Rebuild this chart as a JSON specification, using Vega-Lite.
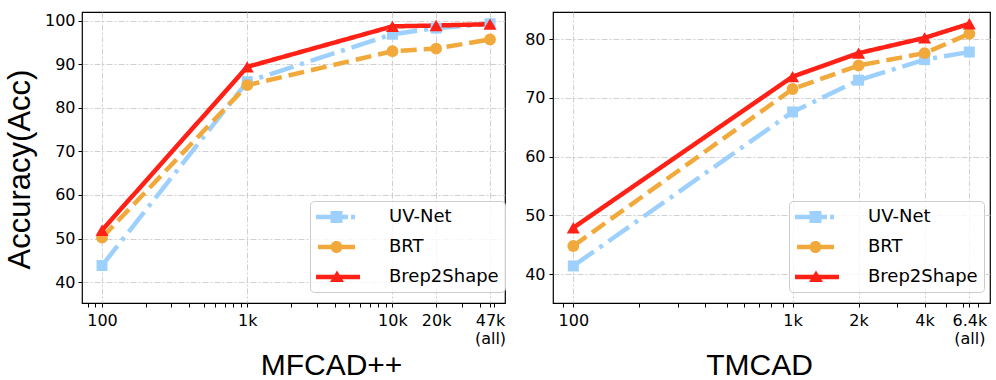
{
  "$schema": "https://vega.github.io/schema/vega-lite/v6.json",
  "background": "white",
  "padding": {"left": 3, "top": 11, "right": 0, "bottom": 0},
  "datasets": {
    "mfcad": [
      {"model": "UV-Net", "size": 100, "acc": 43.8},
      {"model": "UV-Net", "size": 1000, "acc": 86.0},
      {"model": "UV-Net", "size": 10000, "acc": 96.9},
      {"model": "UV-Net", "size": 20000, "acc": 98.3},
      {"model": "UV-Net", "size": 47000, "acc": 99.3},
      {"model": "BRT", "size": 100, "acc": 50.2},
      {"model": "BRT", "size": 1000, "acc": 85.2},
      {"model": "BRT", "size": 10000, "acc": 93.0},
      {"model": "BRT", "size": 20000, "acc": 93.6},
      {"model": "BRT", "size": 47000, "acc": 95.7},
      {"model": "Brep2Shape", "size": 100, "acc": 51.9},
      {"model": "Brep2Shape", "size": 1000, "acc": 89.4},
      {"model": "Brep2Shape", "size": 10000, "acc": 98.7},
      {"model": "Brep2Shape", "size": 20000, "acc": 98.9},
      {"model": "Brep2Shape", "size": 47000, "acc": 99.2}
    ],
    "tmcad": [
      {"model": "UV-Net", "size": 100, "acc": 41.4},
      {"model": "UV-Net", "size": 1000, "acc": 67.6},
      {"model": "UV-Net", "size": 2000, "acc": 73.0},
      {"model": "UV-Net", "size": 4000, "acc": 76.5},
      {"model": "UV-Net", "size": 6400, "acc": 77.8},
      {"model": "BRT", "size": 100, "acc": 44.8},
      {"model": "BRT", "size": 1000, "acc": 71.5},
      {"model": "BRT", "size": 2000, "acc": 75.5},
      {"model": "BRT", "size": 4000, "acc": 77.6},
      {"model": "BRT", "size": 6400, "acc": 80.9},
      {"model": "Brep2Shape", "size": 100, "acc": 47.9},
      {"model": "Brep2Shape", "size": 1000, "acc": 73.6},
      {"model": "Brep2Shape", "size": 2000, "acc": 77.6},
      {"model": "Brep2Shape", "size": 4000, "acc": 80.2},
      {"model": "Brep2Shape", "size": 6400, "acc": 82.6}
    ]
  },
  "config": {
    "view": {"stroke": "black", "strokeWidth": 1.2},
    "concat": {"spacing": 17},
    "axis": {
      "domain": false,
      "tickColor": "black",
      "tickSize": 4,
      "tickWidth": 1,
      "labelFont": "DejaVu Sans",
      "labelFontSize": 16,
      "labelColor": "black",
      "titleFont": "Liberation Sans",
      "titleFontWeight": "normal",
      "titleColor": "black",
      "gridColor": "#c4c4c4",
      "gridDash": [6, 2, 2, 2],
      "gridWidth": 0.8
    },
    "legend": {
      "title": null,
      "labelFont": "DejaVu Sans",
      "labelFontSize": 18,
      "labelColor": "black",
      "symbolSize": 400,
      "symbolStrokeWidth": 0,
      "symbolOpacity": 1,
      "labelOffset": 53,
      "padding": 6,
      "rowPadding": 11,
      "strokeColor": "#cccccc",
      "fillColor": "rgba(255,255,255,0.8)",
      "cornerRadius": 4
    }
  },
  "resolve": {
    "scale": {"color": "independent", "strokeDash": "independent", "shape": "independent", "x": "independent", "y": "independent"},
    "legend": {"color": "independent", "shape": "independent"}
  },
  "hconcat": [
    {
      "width": 423,
      "height": 291,
      "data": {"name": "mfcad"},
      "encoding": {
        "x": {
          "field": "size",
          "type": "quantitative",
          "scale": {"type": "log", "domain": [72.8, 59600], "nice": false},
          "axis": {
            "values": [80, 90, 100, 200, 300, 400, 500, 600, 700, 800, 900, 1000, 2000, 3000, 4000, 5000, 6000, 7000, 8000, 9000, 10000, 20000, 30000, 40000, 47000, 50000],
            "labelExpr": "datum.value == 100 ? '100' : datum.value == 1000 ? '1k' : datum.value == 10000 ? '10k' : datum.value == 20000 ? '20k' : datum.value == 47000 ? ['47k', '(all)'] : ''",
            "labelOverlap": false,
            "labelFlush": false,
            "labelBound": false,
            "labelPadding": 5,
            "labelLineHeight": 18,
            "gridOpacity": {"condition": {"test": "indexof([100, 1000, 10000, 20000, 47000], datum.value) >= 0", "value": 1}, "value": 0},
            "title": "MFCAD++",
            "titleFontSize": 30,
            "titleX": 249,
            "titlePadding": 4
          }
        },
        "y": {
          "field": "acc",
          "type": "quantitative",
          "scale": {"domain": [35.2, 102], "nice": false, "zero": false},
          "axis": {
            "values": [40, 50, 60, 70, 80, 90, 100],
            "labelPadding": 3,
            "title": "Accuracy(Acc)",
            "titleFontSize": 31,
            "titlePadding": 8,
            "titleY": 157
          }
        },
        "color": {
          "field": "model",
          "type": "nominal",
          "scale": {"domain": ["UV-Net", "BRT", "Brep2Shape"], "range": ["#9dd0fc", "#f2a93b", "#ff2016"]},
          "legend": {"orient": "none", "legendX": 228, "legendY": 189}
        }
      },
      "layer": [
        {
          "mark": {"type": "line", "strokeWidth": 4.5},
          "encoding": {
            "strokeDash": {"field": "model", "type": "nominal", "scale": {"domain": ["UV-Net", "BRT", "Brep2Shape"], "range": [[25, 7, 4, 7], [16, 7], [1, 0]]}, "legend": null}
          }
        },
        {
          "transform": [{"filter": "datum.model == 'UV-Net'"}],
          "mark": {"type": "point", "filled": true, "opacity": 1, "shape": "square", "size": 120}
        },
        {
          "transform": [{"filter": "datum.model == 'BRT'"}],
          "mark": {"type": "point", "filled": true, "opacity": 1, "shape": "circle", "size": 140}
        },
        {
          "transform": [{"filter": "datum.model == 'Brep2Shape'"}],
          "mark": {"type": "point", "filled": true, "opacity": 1, "shape": "triangle-up", "size": 170}
        },
        {
          "mark": {"type": "point", "filled": true, "opacity": 0},
          "encoding": {
            "shape": {
              "field": "model",
              "type": "nominal",
              "scale": {"domain": ["UV-Net", "BRT", "Brep2Shape"], "range": ["M-1,-0.22H2.2V0.22H-1Z M2.5,-0.22H2.9V0.22H2.5Z M0.45,-0.6H1.65V0.6H0.45Z", "M-0.8,-0.22H2.9V0.22H-0.8Z M1.65,0A0.6,0.6 0 1,1 0.45,0A0.6,0.6 0 1,1 1.65,0Z", "M-1,-0.22H3.4V0.22H-1Z M1.1,-0.65L1.8,0.5H0.4Z"]},
              "legend": {"orient": "none", "legendX": 228, "legendY": 189}
            }
          }
        }
      ]
    },
    {
      "width": 437,
      "height": 291,
      "data": {"name": "tmcad"},
      "encoding": {
        "x": {
          "field": "size",
          "type": "quantitative",
          "scale": {"type": "log", "domain": [80.8, 7950], "nice": false},
          "axis": {
            "values": [90, 100, 200, 300, 400, 500, 600, 700, 800, 900, 1000, 2000, 3000, 4000, 5000, 6000, 6400, 7000],
            "labelExpr": "datum.value == 100 ? '100' : datum.value == 1000 ? '1k' : datum.value == 2000 ? '2k' : datum.value == 4000 ? '4k' : datum.value == 6400 ? ['6.4k', '(all)'] : ''",
            "labelOverlap": false,
            "labelFlush": false,
            "labelBound": false,
            "labelPadding": 5,
            "labelLineHeight": 18,
            "gridOpacity": {"condition": {"test": "indexof([100, 1000, 2000, 4000, 6400], datum.value) >= 0", "value": 1}, "value": 0},
            "title": "TMCAD",
            "titleFontSize": 30,
            "titleX": 206,
            "titlePadding": 4
          }
        },
        "y": {
          "field": "acc",
          "type": "quantitative",
          "scale": {"domain": [35.1, 84.6], "nice": false, "zero": false},
          "axis": {
            "values": [40, 50, 60, 70, 80],
            "labelPadding": 4,
            "title": null
          }
        },
        "color": {
          "field": "model",
          "type": "nominal",
          "scale": {"domain": ["UV-Net", "BRT", "Brep2Shape"], "range": ["#9dd0fc", "#f2a93b", "#ff2016"]},
          "legend": {"orient": "none", "legendX": 236, "legendY": 189}
        }
      },
      "layer": [
        {
          "mark": {"type": "line", "strokeWidth": 4.5},
          "encoding": {
            "strokeDash": {"field": "model", "type": "nominal", "scale": {"domain": ["UV-Net", "BRT", "Brep2Shape"], "range": [[25, 7, 4, 7], [16, 7], [1, 0]]}, "legend": null}
          }
        },
        {
          "transform": [{"filter": "datum.model == 'UV-Net'"}],
          "mark": {"type": "point", "filled": true, "opacity": 1, "shape": "square", "size": 120}
        },
        {
          "transform": [{"filter": "datum.model == 'BRT'"}],
          "mark": {"type": "point", "filled": true, "opacity": 1, "shape": "circle", "size": 140}
        },
        {
          "transform": [{"filter": "datum.model == 'Brep2Shape'"}],
          "mark": {"type": "point", "filled": true, "opacity": 1, "shape": "triangle-up", "size": 170}
        },
        {
          "mark": {"type": "point", "filled": true, "opacity": 0},
          "encoding": {
            "shape": {
              "field": "model",
              "type": "nominal",
              "scale": {"domain": ["UV-Net", "BRT", "Brep2Shape"], "range": ["M-1,-0.22H2.2V0.22H-1Z M2.5,-0.22H2.9V0.22H2.5Z M0.45,-0.6H1.65V0.6H0.45Z", "M-0.8,-0.22H2.9V0.22H-0.8Z M1.65,0A0.6,0.6 0 1,1 0.45,0A0.6,0.6 0 1,1 1.65,0Z", "M-1,-0.22H3.4V0.22H-1Z M1.1,-0.65L1.8,0.5H0.4Z"]},
              "legend": {"orient": "none", "legendX": 236, "legendY": 189}
            }
          }
        }
      ]
    }
  ]
}
